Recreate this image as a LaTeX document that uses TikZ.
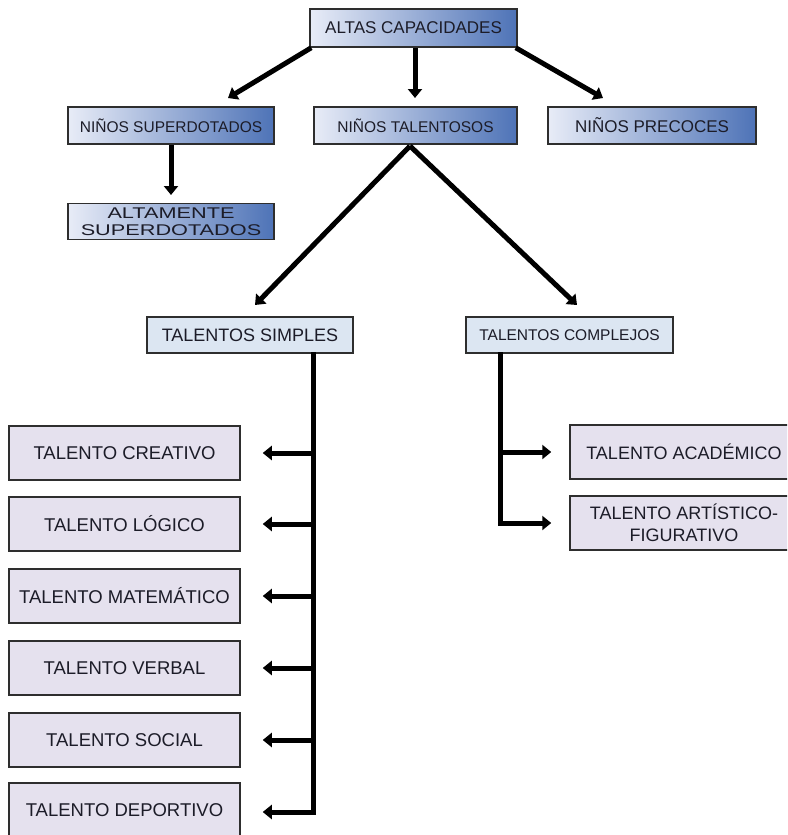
\documentclass[tikz,border=0pt]{standalone}
\usepackage{fontspec}
\setmainfont{Liberation Sans}
\usepackage{graphicx}
\usetikzlibrary{arrows.meta}
\definecolor{gl}{HTML}{E8ECF7}
\definecolor{gr}{HTML}{4E73B7}
\definecolor{lblue}{HTML}{DCE6F2}
\definecolor{lav}{HTML}{E5E1EE}
\definecolor{edge}{HTML}{2E2E2E}
\definecolor{txt}{HTML}{1C1C28}
\newcommand{\fs}[1]{\fontsize{#1}{#1}\selectfont}
\tikzset{
  box/.style={draw=edge, line width=1.5pt, rectangle, inner sep=0pt, align=center, text=txt},
  gbox/.style={box, left color=gl, right color=gr},
  sbox/.style={box, fill=lblue},
  lbox/.style={box, fill=lav, minimum height=54pt},
  arr/.style={line width=5pt, -{Triangle[length=9pt,width=14pt]}},
  bar/.style={line width=5pt}
}
\begin{document}
\begin{tikzpicture}[x=1pt,y=-1pt]
\useasboundingbox (0,0) rectangle (787,835);
\clip (0,0) rectangle (787,835);
\fill[white] (0,0) rectangle (787,835);
% top level
\node[gbox, minimum width=207pt, minimum height=38pt, font=\fs{17}] (altas) at (413.5,28) {ALTAS CAPACIDADES};
\node[gbox, minimum width=206pt, minimum height=37pt, font=\fs{15.5}] (sup) at (171,125.5) {NIÑOS SUPERDOTADOS};
\node[gbox, minimum width=203pt, minimum height=37pt, font=\fs{15.5}] (tal) at (415.5,125.5) {NIÑOS TALENTOSOS};
\node[gbox, minimum width=208pt, minimum height=37pt, font=\fs{17}] (prec) at (652,125.5) {NIÑOS PRECOCES};
\node[gbox, minimum width=206pt, minimum height=36pt, font=\fs{15.5}] (alt) at (171,221.5) {\scalebox{1.4}[1]{ALTAMENTE}\\[1.5pt]\scalebox{1.4}[1]{SUPERDOTADOS}};
\node[sbox, minimum width=206pt, minimum height=36pt, font=\fs{18}] (simp) at (250,335) {TALENTOS SIMPLES};
\node[sbox, minimum width=207pt, minimum height=36pt, font=\fs{15.5}] (comp) at (569.5,335) {TALENTOS COMPLEJOS};
% left column
\tikzset{lfont/.style={font=\fs{18.5}}}
\node[lbox, lfont, minimum width=231pt] (crea) at (124.5,453) {TALENTO CREATIVO};
\node[lbox, lfont, minimum width=231pt] (logi) at (124.5,524) {TALENTO LÓGICO};
\node[lbox, lfont, minimum width=231pt] (mate) at (124.5,596) {TALENTO MATEMÁTICO};
\node[lbox, lfont, minimum width=231pt] (verb) at (124.5,668) {TALENTO VERBAL};
\node[lbox, lfont, minimum width=231pt] (soci) at (124.5,740) {TALENTO SOCIAL};
\node[lbox, lfont, minimum width=231pt] (depo) at (124.5,810) {TALENTO DEPORTIVO};
% right column
\node[lbox, font=\fs{18}, minimum width=228pt] (acad) at (684,452) {TALENTO ACADÉMICO};
\node[lbox, font=\fs{18}, minimum width=228pt] (arti) at (684,523) {TALENTO ARTÍSTICO-\\[4pt]FIGURATIVO};
% coordinates
\coordinate (t1) at (228,98);
\coordinate (t2) at (415,98);
\coordinate (t3) at (603,98);
\coordinate (s1) at (171,195);
\coordinate (m0) at (410,146);
\coordinate (m1) at (255,305);
\coordinate (m2) at (577,305);
\coordinate (ls) at (313,352);
\coordinate (le) at (313,814.5);
\coordinate (rs) at (500,352);
\coordinate (re) at (500,525.5);
% connectors
\draw[arr] (altas.south west) ++(2,0) -- (t1);
\draw[arr] (altas.south -| t2) -- (t2);
\draw[arr] (altas.south east) ++(-2,0) -- (t3);
\draw[arr] (sup.south) -- (s1);
\draw[arr] (m0) -- (m1);
\draw[arr] (m0) -- (m2);
\draw[bar] (ls) -- (le);
\foreach \n in {crea,logi,mate,verb,soci}
  \draw[arr, shorten >=22pt] (\n.east -| ls) -- (\n.east);
\draw[arr, shorten >=22pt] (ls |- 0,812) -- (depo.east |- 0,812);
\draw[bar] (rs) -- (re);
\draw[arr, shorten >=18pt] (acad.west -| rs) -- (acad.west);
\draw[arr, shorten >=18pt] (rs |- 0,523) -- (arti.west |- 0,523);
\end{tikzpicture}
\end{document}
